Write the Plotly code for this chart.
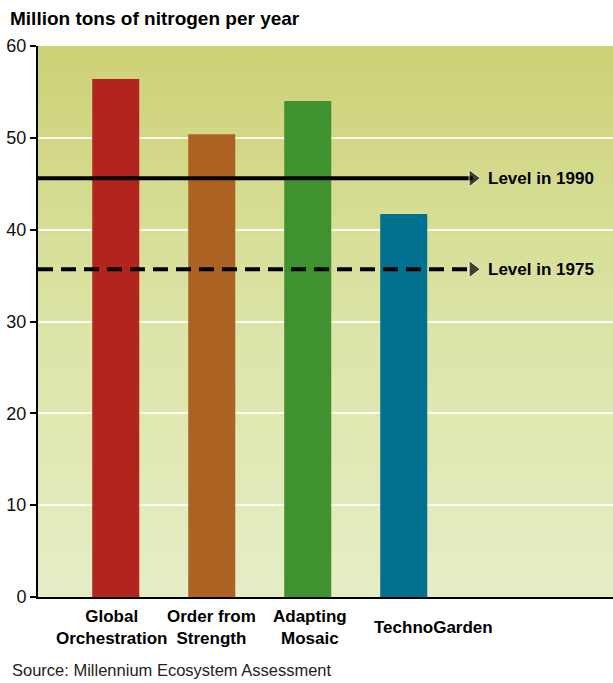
"""Nitrogen fixation by scenario, bar chart with reference levels."""

import plotly.graph_objects as go

scenarios = ["Global<br>Orchestration", "Order from<br>Strength", "Adapting<br>Mosaic", "TechnoGarden"]
nitrogen = [56.4, 50.4, 54.0, 41.7]
bar_colors = ["#b2251e", "#ac6222", "#3f922f", "#02718f"]
label_shift = [-4, 0, 2, 30]

levels = {"Level in 1990": 45.6, "Level in 1975": 35.7}
level_dash = {"Level in 1990": "solid", "Level in 1975": "15px,8px"}

y_ticks = [0, 10, 20, 30, 40, 50, 60]

_BOLD = "Liberation Sans, Arial, sans-serif"
_REGULAR = "Liberation Sans, Arial, sans-serif"

X_RANGE = [-0.81, 5.18]
LINE_END = 3.72

positions = list(range(len(scenarios)))

fig = go.Figure()

# vertical gradient background, in bands under the grid
top, mid, bot = (205, 209, 118), (220, 228, 166), (230, 237, 197)
n_bands = 60
for i in range(n_bands):
    f = i / (n_bands - 1)
    if f < 0.5:
        a, b, t = bot, mid, f / 0.5
    else:
        a, b, t = mid, top, (f - 0.5) / 0.5
    c = tuple(round(a[k] + (b[k] - a[k]) * t) for k in range(3))
    y0 = 60 * i / n_bands
    y1 = 60 * (i + 1) / n_bands + 0.05
    fig.add_shape(
        type="rect", xref="paper", yref="y", x0=0, x1=1, y0=y0, y1=min(y1, 60),
        fillcolor=f"rgb{c}", line_width=0, layer="below",
    )

fig.add_trace(
    go.Bar(
        x=positions, y=nitrogen, width=0.49,
        marker=dict(color=bar_colors, line_width=0),
        hovertemplate="%{y:.1f}<extra></extra>",
    )
)

for name, val in levels.items():
    fig.add_trace(
        go.Scatter(
            x=[X_RANGE[0], LINE_END], y=[val, val], mode="lines+markers",
            line=dict(color="black", width=4, dash=level_dash[name]),
            marker=dict(symbol="triangle-right", size=[0, 15], color="black"),
            hoverinfo="skip",
        )
    )
    fig.add_annotation(
        x=LINE_END + 0.14, y=val, xref="x", yref="y", text=f"<b>{name}</b>",
        showarrow=False, xanchor="left", yanchor="middle",
        font=dict(family=_BOLD, size=17, color="black"),
    )

for pos, label, dx in zip(positions, scenarios, label_shift):
    fig.add_annotation(
        x=pos, y=0, xref="x", yref="paper", yshift=-30, xshift=dx, text=f"<b>{label}</b>",
        showarrow=False, xanchor="center", yanchor="middle",
        font=dict(family=_BOLD, size=17, color="black"),
    )

fig.add_annotation(
    x=-28 / 575, y=0, xref="paper", yref="paper", yshift=-73,
    text="Source: Millennium Ecosystem Assessment", showarrow=False,
    xanchor="left", yanchor="middle", font=dict(family=_REGULAR, size=16.5, color="#222"),
)

fig.update_layout(
    width=613, height=683,
    paper_bgcolor="white", plot_bgcolor="rgba(0,0,0,0)",
    showlegend=False,
    title=dict(
        text="<b>Million tons of nitrogen per year</b>",
        x=10 / 613, xanchor="left", y=1 - 18 / 683, yanchor="middle",
        font=dict(family=_BOLD, size=19, color="black"),
    ),
    xaxis=dict(
        range=X_RANGE, showticklabels=False, showgrid=False, zeroline=False,
        showline=True, linecolor="black", linewidth=2, ticks="",
    ),
    yaxis=dict(
        range=[0, 60], tickvals=y_ticks, showgrid=True, gridcolor="rgba(255,255,255,0.85)",
        gridwidth=1.5, zeroline=False, showline=True, linecolor="black", linewidth=2,
        ticks="outside", ticklen=6, tickcolor="black", tickwidth=1.5,
        tickfont=dict(family=_REGULAR, size=18, color="#111"),
    ),
    margin=dict(l=38, r=0, t=46, b=86),
)

fig.write_html(
    "out.html",
    config={"displayModeBar": False},
    post_script="document.body.style.margin='0';",
)
